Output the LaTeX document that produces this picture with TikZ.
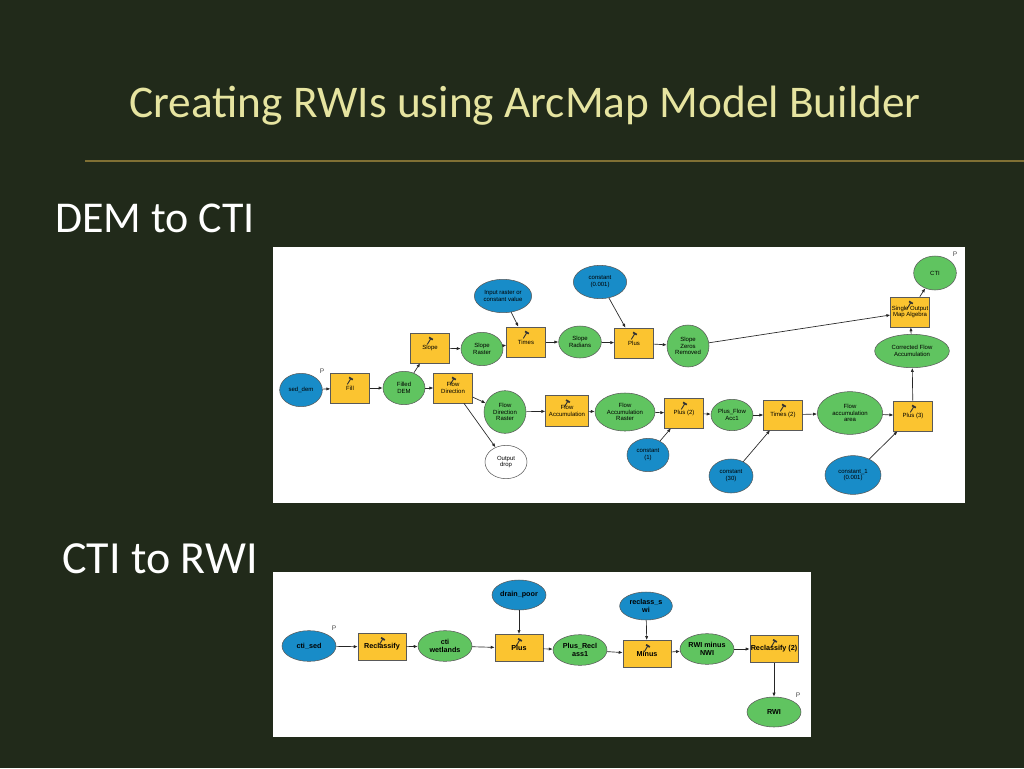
\documentclass[tikz,border=0pt]{standalone}
\usepackage{fontspec}
\setmainfont{Carlito}
\newfontfamily\arcfont{Liberation Sans}
\usetikzlibrary{shapes.geometric,arrows.meta}
\definecolor{slidebg}{RGB}{33,42,26}
\definecolor{titlecol}{RGB}{230,228,160}
\definecolor{rulecol}{RGB}{128,112,52}
\definecolor{toolyellow}{RGB}{251,196,48}
\definecolor{datagreen}{RGB}{96,196,96}
\definecolor{inputblue}{RGB}{24,140,200}
\begin{document}
\begin{tikzpicture}[x=0.75pt,y=-0.75pt,
  tool/.style={draw=black!65,fill=toolyellow,minimum width=29pt,minimum height=22.5pt,
    inner sep=0pt,align=center,font=\arcfont\fontsize{4.5}{5.1}\selectfont,
    path picture={
      \draw[line width=0.7pt,black!80] ([xshift=-2pt,yshift=-8.5pt]path picture bounding box.north) -- ++(2.6pt,4.3pt);
      \draw[line width=1.3pt,black!80] ([xshift=-0.7pt,yshift=-3.3pt]path picture bounding box.north) -- ++(2.8pt,-1.7pt);}},
  data/.style={ellipse,draw=black!65,fill=datagreen,minimum width=31.5pt,minimum height=25pt,
    inner sep=0pt,align=center,font=\arcfont\fontsize{4.5}{5.1}\selectfont},
  input/.style={data,fill=inputblue},
  outdata/.style={data,fill=white},
  bigtool/.style={tool,minimum width=36pt,minimum height=20.5pt,font=\arcfont\bfseries\fontsize{5.4}{6}\selectfont},
  bigdata/.style={data,minimum width=40.5pt,minimum height=23pt,font=\arcfont\bfseries\fontsize{5.4}{6}\selectfont},
  param/.style={text=black!70,inner sep=0pt,font=\arcfont\fontsize{5}{5}\selectfont},
  flow/.style={draw=black!85,line width=0.5pt,-{Latex[length=3pt,width=2.4pt]}}]
\useasboundingbox (0,0) rectangle (1024,768);
\fill[slidebg] (0,0) rectangle (1024,768);
% title and headings
\node[anchor=base,text=titlecol,font=\fontsize{34}{40}\selectfont](title) at (525,117){Creating RWIs using ArcMap Model Builder};
\draw[rulecol,line width=1pt] (85,161) -- (1024,161);
\node[anchor=base west,inner sep=0pt,text=white,font=\fontsize{33}{38}\selectfont](headone) at (55,232){DEM to CTI};
\node[anchor=base west,inner sep=0pt,text=white,font=\fontsize{34.5}{40}\selectfont](headtwo) at (62,573){CTI to RWI};
\fill[white] (273,247) rectangle (965,503);
\fill[white] (273,572) rectangle (811,737);
% DEM to CTI model
\node[input,minimum width=32pt](sed) at (301,390){sed\_dem};
\node[param](psed) at (322,371){P};
\node[tool](fill) at (350,388){Fill};
\node[data](fdem) at (404,388){Filled\\DEM};
\node[tool](slope) at (430,348){Slope};
\node[data](sraster) at (482,349){Slope\\Raster};
\node[input,minimum width=43pt](inraster) at (503,296){Input raster or\\constant value};
\node[tool](times) at (526,342){Times};
\node[data,minimum width=32pt,minimum height=24pt](srad) at (580,342){Slope\\Radians};
\node[input,minimum width=40pt](const) at (600,282){constant\\(0.001)};
\node[tool](plus) at (634,343){Plus};
\node[data,minimum height=31.5pt](szero) at (688,346){Slope\\Zeros\\Removed};
\node[tool](fdir) at (453,388){Flow\\Direction};
\node[data,minimum height=32pt](fdraster) at (505,412){Flow\\Direction\\Raster};
\node[outdata](drop) at (506,462){Output\\drop};
\node[tool,minimum width=32pt,minimum height=23pt](facc) at (567,411){Flow\\Accumulation};
\node[data,minimum width=45pt,minimum height=28.5pt](faraster) at (625,412){Flow\\Accumulation\\Raster};
\node[tool](plustwo) at (684,413){Plus (2)};
\node[input](constone) at (648,455){constant\\(1)};
\node[data,minimum height=23.5pt](pfacc) at (732,415){Plus\_Flow\\Acc1};
\node[tool](timestwo) at (783,415){Times (2)};
\node[input,minimum width=33pt,minimum height=25.5pt](constthirty) at (731,476){constant\\(30)};
\node[data,minimum width=49pt,minimum height=32pt](faarea) at (850,413){Flow\\accumulation\\area};
\node[tool](plusthree) at (913,416){Plus (3)};
\node[input,minimum width=42pt,minimum height=29pt](constlow) at (853,475){constant\_1\\(0.001)};
\node[data,minimum width=56pt](cfacc) at (912,351){Corrected Flow\\Accumulation};
\node[tool](somap) at (910,312){Single Output\\Map Algebra};
\node[data,minimum width=32pt,minimum height=25.5pt](cti) at (935,273){CTI};
\node[param](pcti) at (955,254){P};
\draw[flow] (sed) -- (fill);
\draw[flow] (fill) -- (fdem);
\draw[flow] (fdem) -- (slope);
\draw[flow] (fdem) -- (fdir);
\draw[flow] (slope) -- (sraster);
\draw[flow] (sraster) -- (times);
\draw[flow] (inraster) -- (times);
\draw[flow] (times) -- (srad);
\draw[flow] (srad) -- (plus);
\draw[flow] (const) -- (plus);
\draw[flow] (plus) -- (szero);
\draw[flow] (szero) -- (somap);
\draw[flow] (fdir) -- (fdraster);
\draw[flow] (fdir) -- (drop);
\draw[flow] (fdraster) -- (facc);
\draw[flow] (facc) -- (faraster);
\draw[flow] (faraster) -- (plustwo);
\draw[flow] (constone) -- (plustwo);
\draw[flow] (plustwo) -- (pfacc);
\draw[flow] (pfacc) -- (timestwo);
\draw[flow] (constthirty) -- (timestwo);
\draw[flow] (timestwo) -- (faarea);
\draw[flow] (faarea) -- (plusthree);
\draw[flow] (constlow) -- (plusthree);
\draw[flow] (plusthree) -- (cfacc);
\draw[flow] (cfacc) -- (somap);
\draw[flow] (somap) -- (cti);
% CTI to RWI model
\node[bigdata,fill=inputblue](ctised) at (309,646){cti\_sed};
\node[param](pctised) at (334,628){P};
\node[bigtool](recl) at (382,647){Reclassify};
\node[bigdata](ctiwet) at (445,646){cti\\wetlands};
\node[bigdata,fill=inputblue,minimum height=22.5pt](drain) at (519,595){drain\_poor};
\node[bigtool](plusb) at (519,648){Plus};
\node[bigdata](precl) at (580,650){Plus\_Recl\\ass1};
\node[bigdata,fill=inputblue,minimum width=39.5pt,minimum height=21pt](rswi) at (646,606){reclass\_s\\wi};
\node[bigtool](minus) at (647,654){Minus};
\node[bigdata](rwinwi) at (707,649){RWI minus\\NWI};
\node[bigtool](recltwo) at (774,649){Reclassify (2)};
\node[bigdata,minimum height=22.5pt](rwi) at (774,712){RWI};
\node[param](prwi) at (798,695){P};
\draw[flow] (ctised) -- (recl);
\draw[flow] (recl) -- (ctiwet);
\draw[flow] (ctiwet) -- (plusb);
\draw[flow] (drain) -- (plusb);
\draw[flow] (plusb) -- (precl);
\draw[flow] (precl) -- (minus);
\draw[flow] (rswi) -- (minus);
\draw[flow] (minus) -- (rwinwi);
\draw[flow] (rwinwi) -- (recltwo);
\draw[flow] (recltwo) -- (rwi);
\end{tikzpicture}
\end{document}
